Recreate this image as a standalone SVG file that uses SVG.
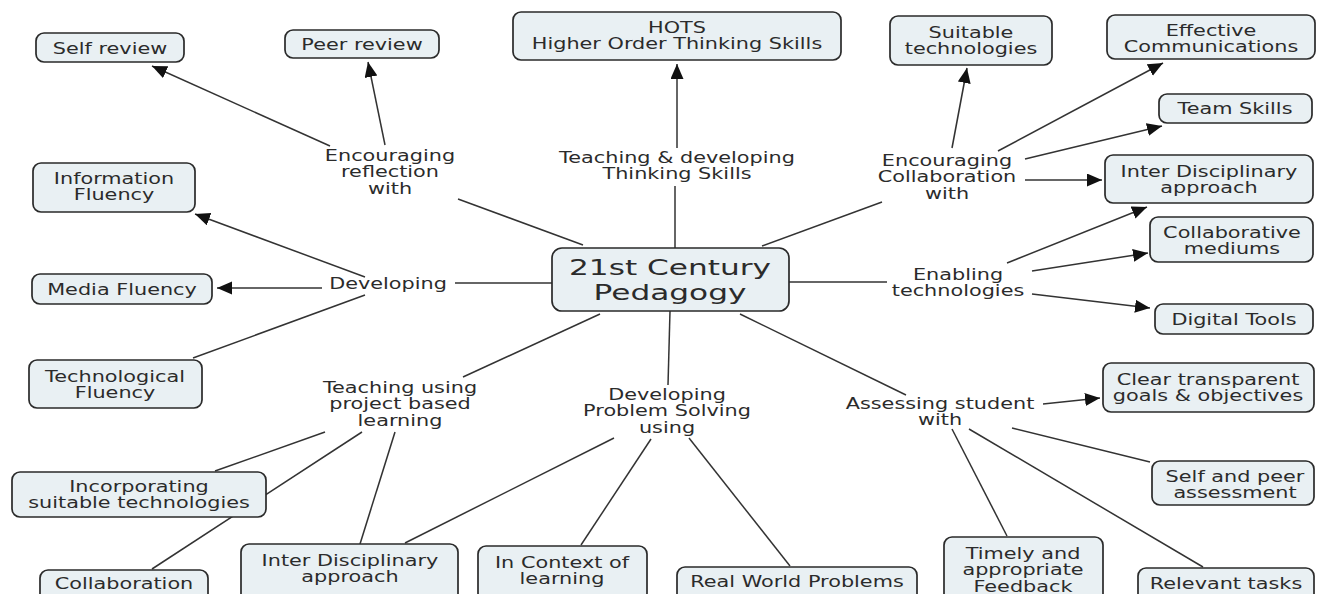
<svg xmlns="http://www.w3.org/2000/svg" width="1319" height="594" viewBox="0 0 1319 594">
<defs>
<marker id="ah" markerUnits="userSpaceOnUse" markerWidth="16" markerHeight="14" refX="15" refY="6.5" orient="auto">
<path d="M0,0 L15,6.5 L0,13 z" fill="#111"/>
</marker>
<style>
.n rect{fill:#e9f0f3;stroke:#2a2a2a;stroke-width:1.7}
.t{font-family:"DejaVu Sans","Verdana",sans-serif;font-size:16px;fill:#2b2b2b;text-anchor:middle}
.big{font-size:21.5px}
#connectors line{stroke:#333;stroke-width:1.5;fill:none}
#connectors line.a{marker-end:url(#ah)}
</style>
</defs>
<rect width="1319" height="594" fill="#fff"/>
<g id="connectors">
<line x1="458" y1="199" x2="583" y2="245"/>
<line class="a" x1="330" y1="146" x2="152" y2="66"/>
<line class="a" x1="385" y1="145" x2="368" y2="62"/>
<line x1="675" y1="186" x2="675" y2="248"/>
<line class="a" x1="677" y1="148" x2="677" y2="64"/>
<line x1="882" y1="202" x2="762" y2="246"/>
<line class="a" x1="952" y1="148" x2="967" y2="68"/>
<line class="a" x1="998" y1="151" x2="1163" y2="63"/>
<line class="a" x1="1025" y1="159" x2="1162" y2="126"/>
<line class="a" x1="1025" y1="180" x2="1102" y2="180"/>
<line x1="552" y1="283" x2="455" y2="283"/>
<line class="a" x1="365" y1="277" x2="195" y2="214"/>
<line class="a" x1="322" y1="288" x2="217" y2="288"/>
<line x1="365" y1="295" x2="193" y2="358"/>
<line x1="789" y1="282" x2="887" y2="282"/>
<line class="a" x1="1007" y1="263" x2="1147" y2="207"/>
<line class="a" x1="1032" y1="271" x2="1148" y2="253"/>
<line class="a" x1="1032" y1="294" x2="1150" y2="308"/>
<line x1="740" y1="314" x2="906" y2="395"/>
<line class="a" x1="1043" y1="404" x2="1100" y2="398"/>
<line x1="1012" y1="428" x2="1150" y2="462"/>
<line x1="969" y1="429" x2="1203" y2="567"/>
<line x1="952" y1="429" x2="1007" y2="536"/>
<line x1="670" y1="311" x2="668" y2="385"/>
<line x1="614" y1="438" x2="405" y2="543"/>
<line x1="651" y1="439" x2="581" y2="545"/>
<line x1="689" y1="438" x2="790" y2="566"/>
<line x1="600" y1="314" x2="463" y2="377"/>
<line x1="325" y1="432" x2="215" y2="471"/>
<line x1="362" y1="432" x2="152" y2="569"/>
<line x1="395" y1="432" x2="360" y2="544"/>
</g>
<g id="labels">
<text class="t" transform="translate(390,161) scale(1.3,1)"><tspan x="0" y="0">Encouraging</tspan><tspan x="0" y="16.5">reflection</tspan><tspan x="0" y="33">with</tspan></text>
<text class="t" transform="translate(677,163) scale(1.3,1)"><tspan x="0" y="0">Teaching &amp; developing</tspan><tspan x="0" y="16.5">Thinking Skills</tspan></text>
<text class="t" transform="translate(947,166) scale(1.3,1)"><tspan x="0" y="0">Encouraging</tspan><tspan x="0" y="16.5">Collaboration</tspan><tspan x="0" y="33">with</tspan></text>
<text class="t" transform="translate(388,289) scale(1.3,1)"><tspan x="0" y="0">Developing</tspan></text>
<text class="t" transform="translate(958,280) scale(1.3,1)"><tspan x="0" y="0">Enabling</tspan><tspan x="0" y="16.5">technologies</tspan></text>
<text class="t" transform="translate(940,409) scale(1.3,1)"><tspan x="0" y="0">Assessing student</tspan><tspan x="0" y="16.5">with</tspan></text>
<text class="t" transform="translate(667,400) scale(1.3,1)"><tspan x="0" y="0">Developing</tspan><tspan x="0" y="16.5">Problem Solving</tspan><tspan x="0" y="33">using</tspan></text>
<text class="t" transform="translate(400,393) scale(1.3,1)"><tspan x="0" y="0">Teaching using</tspan><tspan x="0" y="16.5">project based</tspan><tspan x="0" y="33">learning</tspan></text>
</g>
<g id="self-review" class="n"><rect x="36" y="33" width="148" height="29" rx="8"/><text class="t" transform="translate(110,54) scale(1.3,1)">Self review</text></g>
<g id="peer-review" class="n"><rect x="285" y="30" width="154" height="28" rx="8"/><text class="t" transform="translate(362,50) scale(1.3,1)">Peer review</text></g>
<g id="hots" class="n"><rect x="513" y="12" width="328" height="48" rx="8"/><text class="t" transform="translate(677,33) scale(1.3,1)"><tspan x="0" y="0">HOTS</tspan><tspan x="0" y="16.5">Higher Order Thinking Skills</tspan></text></g>
<g id="suitable-tech" class="n"><rect x="890" y="16" width="162" height="49" rx="8"/><text class="t" transform="translate(971,38) scale(1.3,1)"><tspan x="0" y="0">Suitable</tspan><tspan x="0" y="16.5">technologies</tspan></text></g>
<g id="effective-comm" class="n"><rect x="1107" y="15" width="208" height="44" rx="8"/><text class="t" transform="translate(1211,36) scale(1.3,1)"><tspan x="0" y="0">Effective</tspan><tspan x="0" y="16.5">Communications</tspan></text></g>
<g id="team-skills" class="n"><rect x="1159" y="94" width="153" height="29" rx="8"/><text class="t" transform="translate(1235,114) scale(1.3,1)">Team Skills</text></g>
<g id="inter-disc-right" class="n"><rect x="1105" y="155" width="208" height="48" rx="8"/><text class="t" transform="translate(1209,177) scale(1.3,1)"><tspan x="0" y="0">Inter Disciplinary</tspan><tspan x="0" y="16.5">approach</tspan></text></g>
<g id="info-fluency" class="n"><rect x="33" y="163" width="162" height="49" rx="8"/><text class="t" transform="translate(114,184) scale(1.3,1)"><tspan x="0" y="0">Information</tspan><tspan x="0" y="16.5">Fluency</tspan></text></g>
<g id="media-fluency" class="n"><rect x="32" y="274" width="180" height="30" rx="8"/><text class="t" transform="translate(122,295) scale(1.3,1)">Media Fluency</text></g>
<g id="tech-fluency" class="n"><rect x="29" y="360" width="173" height="48" rx="8"/><text class="t" transform="translate(115,382) scale(1.3,1)"><tspan x="0" y="0">Technological</tspan><tspan x="0" y="16.5">Fluency</tspan></text></g>
<g id="center" class="n"><rect x="552" y="248" width="237" height="63" rx="10"/><text class="t big" transform="translate(670,274.5) scale(1.45,1)"><tspan x="0" y="0">21st Century</tspan><tspan x="0" y="25.5">Pedagogy</tspan></text></g>
<g id="collab-mediums" class="n"><rect x="1150" y="217" width="163" height="45" rx="8"/><text class="t" transform="translate(1232,238) scale(1.3,1)"><tspan x="0" y="0">Collaborative</tspan><tspan x="0" y="16.5">mediums</tspan></text></g>
<g id="digital-tools" class="n"><rect x="1155" y="304" width="158" height="30" rx="8"/><text class="t" transform="translate(1234,325) scale(1.3,1)">Digital Tools</text></g>
<g id="clear-goals" class="n"><rect x="1103" y="363" width="211" height="49" rx="8"/><text class="t" transform="translate(1208,385) scale(1.3,1)"><tspan x="0" y="0">Clear transparent</tspan><tspan x="0" y="16.5">goals &amp; objectives</tspan></text></g>
<g id="self-peer" class="n"><rect x="1152" y="461" width="162" height="44" rx="8"/><text class="t" transform="translate(1235,482) scale(1.3,1)"><tspan x="0" y="0">Self and peer</tspan><tspan x="0" y="16.5">assessment</tspan></text></g>
<g id="timely" class="n"><rect x="944" y="537" width="159" height="70" rx="8"/><text class="t" transform="translate(1023,559) scale(1.3,1)"><tspan x="0" y="0">Timely and</tspan><tspan x="0" y="16.5">appropriate</tspan><tspan x="0" y="33">Feedback</tspan></text></g>
<g id="relevant-tasks" class="n"><rect x="1138" y="568" width="176" height="40" rx="8"/><text class="t" transform="translate(1226,589) scale(1.3,1)">Relevant tasks</text></g>
<g id="real-world" class="n"><rect x="677" y="567" width="240" height="40" rx="8"/><text class="t" transform="translate(797,587) scale(1.3,1)">Real World Problems</text></g>
<g id="in-context" class="n"><rect x="478" y="546" width="169" height="55" rx="8"/><text class="t" transform="translate(562,568) scale(1.3,1)"><tspan x="0" y="0">In Context of</tspan><tspan x="0" y="16.5">learning</tspan></text></g>
<g id="inter-disc-bottom" class="n"><rect x="241" y="544" width="217" height="60" rx="8"/><text class="t" transform="translate(350,566) scale(1.3,1)"><tspan x="0" y="0">Inter Disciplinary</tspan><tspan x="0" y="16.5">approach</tspan></text></g>
<g id="collaboration" class="n"><rect x="40" y="570" width="168" height="40" rx="8"/><text class="t" transform="translate(124,589) scale(1.3,1)">Collaboration</text></g>
<g id="incorporating" class="n"><rect x="12" y="472" width="254" height="45" rx="8"/><text class="t" transform="translate(139,492) scale(1.3,1)"><tspan x="0" y="0">Incorporating</tspan><tspan x="0" y="16.5">suitable technologies</tspan></text></g>
</svg>
